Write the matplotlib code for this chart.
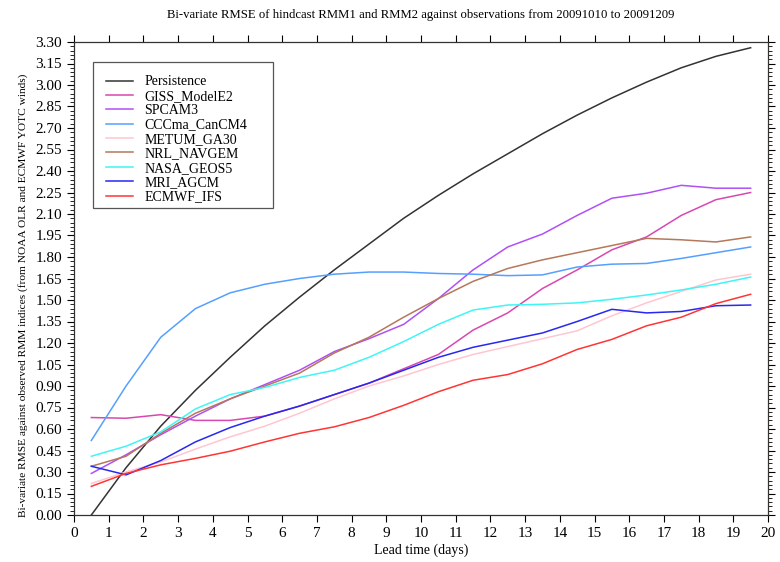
import numpy as np
import matplotlib
matplotlib.use("Agg")
import matplotlib.pyplot as plt
from matplotlib.patches import Rectangle
from matplotlib.ticker import MultipleLocator, FormatStrFormatter

# ----------------------------
# Data
# ----------------------------
lead = [0.5 + i for i in range(20)]

persistence = [0.00, 0.33, 0.62, 0.87, 1.10, 1.32, 1.52, 1.71, 1.89, 2.07,
               2.23, 2.38, 2.52, 2.66, 2.79, 2.91, 3.02, 3.12, 3.20, 3.26]
giss = [0.68, 0.675, 0.70, 0.66, 0.66, 0.69, 0.76, 0.84, 0.92, 1.02,
        1.12, 1.29, 1.41, 1.58, 1.71, 1.85, 1.94, 2.09, 2.20, 2.25]
spcam = [0.29, 0.42, 0.56, 0.69, 0.81, 0.91, 1.01, 1.14, 1.23, 1.33,
         1.51, 1.71, 1.87, 1.96, 2.09, 2.21, 2.245, 2.30, 2.28, 2.28]
cccma = [0.52, 0.90, 1.24, 1.44, 1.55, 1.61, 1.65, 1.68, 1.695, 1.695,
         1.685, 1.68, 1.67, 1.675, 1.73, 1.75, 1.755, 1.79, 1.83, 1.87]
metum = [0.22, 0.30, 0.37, 0.46, 0.545, 0.62, 0.71, 0.81, 0.90, 0.97,
         1.05, 1.12, 1.175, 1.23, 1.285, 1.39, 1.48, 1.56, 1.64, 1.68]
nrl = [0.34, 0.41, 0.57, 0.71, 0.81, 0.90, 0.99, 1.13, 1.24, 1.38,
       1.51, 1.63, 1.72, 1.78, 1.83, 1.88, 1.93, 1.92, 1.905, 1.94]
nasa = [0.41, 0.48, 0.58, 0.74, 0.84, 0.89, 0.96, 1.01, 1.10, 1.21,
        1.33, 1.43, 1.465, 1.47, 1.48, 1.505, 1.535, 1.57, 1.61, 1.66]
mri = [0.34, 0.28, 0.38, 0.51, 0.61, 0.69, 0.76, 0.84, 0.92, 1.01,
       1.10, 1.17, 1.22, 1.27, 1.35, 1.435, 1.41, 1.42, 1.46, 1.465]
ecmwf = [0.20, 0.29, 0.35, 0.395, 0.445, 0.51, 0.57, 0.615, 0.68, 0.765,
         0.86, 0.94, 0.98, 1.055, 1.155, 1.225, 1.32, 1.38, 1.475, 1.54]

names = ["Persistence", "GISS_ModelE2", "SPCAM3", "CCCma_CanCM4", "METUM_GA30",
         "NRL_NAVGEM", "NASA_GEOS5", "MRI_AGCM", "ECMWF_IFS"]
series = [persistence, giss, spcam, cccma, metum, nrl, nasa, mri, ecmwf]
colors = ["#333333", "#d848b0", "#b050f5", "#55a0ff", "#ffc6d0",
          "#b5785a", "#40f5f5", "#2828f0", "#ff3535"]

# ----------------------------
# Plot
# ----------------------------
plt.rcParams["font.family"] = ["Liberation Serif", "DejaVu Serif"]

fig = plt.figure(figsize=(7.8, 5.62), dpi=100)
ax = fig.add_axes([74/780, 47/562, 694/780, 473/562])

for name, vals, c in zip(names, series, colors):
    ax.plot(lead, vals, color=c, lw=1.1, label=name)

ax.set_xlim(0, 20)
ax.set_ylim(0, 3.30)
ax.xaxis.set_major_locator(MultipleLocator(1))
ax.yaxis.set_major_locator(MultipleLocator(0.15))
ax.yaxis.set_minor_locator(MultipleLocator(0.03))
ax.yaxis.set_major_formatter(FormatStrFormatter("%.2f"))
ax.tick_params(axis="both", which="major", direction="out", length=5, width=0.8,
               labelsize=11, top=True, right=True)
ax.tick_params(axis="y", which="minor", direction="out", length=3, width=0.6, right=True)
for s in ax.spines.values():
    s.set_linewidth(0.9)
    s.set_color("#333333")

ax.set_xlabel("Lead time (days)", fontsize=10, labelpad=3)
ax.set_ylabel("Bi-variate RMSE against observed RMM indices (from NOAA OLR and ECMWF YOTC winds)",
              fontsize=8.2)
ax.yaxis.set_label_coords(-0.066, 0.465)
ax.set_title("Bi-variate RMSE of hindcast RMM1 and RMM2 against observations from 20091010 to 20091209",
             fontsize=9.2, pad=17)

# legend box drawn separately (wider than the legend's own frame)
box = Rectangle((0.0274, 0.649), 0.2594, 0.3087, transform=ax.transAxes,
                facecolor="white", edgecolor="#555555", lw=0.9, zorder=4.5)
ax.add_patch(box)
leg = ax.legend(loc="upper left", bbox_to_anchor=(0.0317, 0.9514), borderaxespad=0,
                fontsize=10, handlelength=1.95, handletextpad=0.8, labelspacing=0.1,
                borderpad=0.75, frameon=False)

fig.savefig("out.png", dpi=100)
